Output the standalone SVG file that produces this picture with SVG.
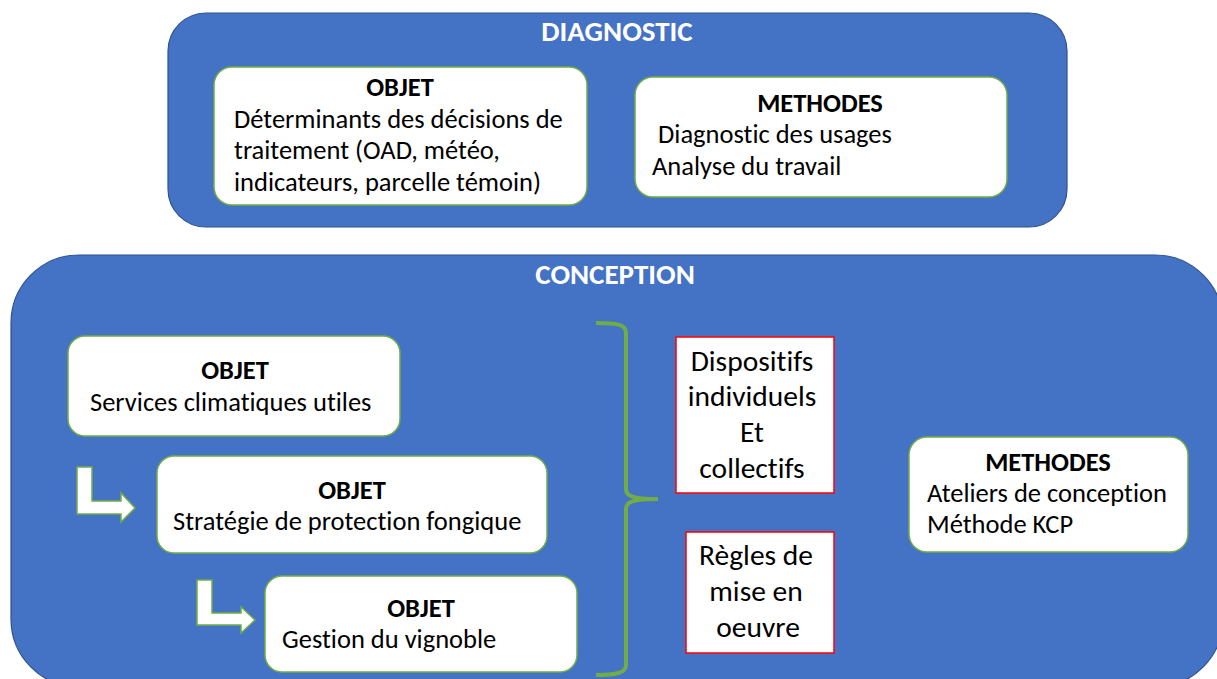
<svg xmlns="http://www.w3.org/2000/svg" width="1217" height="679" viewBox="0 0 1217 679">
  <defs>
    <style>
      .panel { fill: #4472C4; stroke: #2F528F; stroke-width: 1.2; }
      .card { fill: #FFFFFF; stroke: #70AD47; stroke-width: 1.5; }
      .note { fill: #FFFFFF; stroke: #FF0000; stroke-width: 1.5; }
      .bent { fill: #FFFFFF; stroke: #70AD47; stroke-width: 1.5; stroke-linejoin: miter; }
      .brace { fill: none; stroke: #70AD47; stroke-width: 4; stroke-linecap: butt; }
      text { font-family: Carlito, Lato, "Open Sans", sans-serif; fill: #000000; font-variant-ligatures: none; }
      .title { font-size: 29px; font-weight: bold; fill: #FFFFFF; text-anchor: middle; }
      .head { font-size: 26.5px; font-weight: bold; text-anchor: middle; }
      .body { font-size: 26.5px; }
      .big { font-size: 29.5px; text-anchor: middle; }
    </style>
  </defs>

  <!-- Diagnostic phase -->
  <g id="diagnostic">
    <rect class="panel" x="168" y="13" width="899" height="214" rx="38" ry="38"/>
    <text class="title" x="617" y="41">DIAGNOSTIC</text>
  </g>

  <g id="diag-objet">
    <rect class="card" x="214" y="67" width="373" height="138" rx="18" ry="18"/>
    <text class="head" x="400" y="96">OBJET</text>
    <text class="body" x="234" y="128">Déterminants des décisions de</text>
    <text class="body" x="234" y="159">traitement (OAD, météo,</text>
    <text class="body" x="234" y="191">indicateurs, parcelle témoin)</text>
  </g>

  <g id="diag-methodes">
    <rect class="card" x="635" y="77" width="372" height="120" rx="18" ry="18"/>
    <text class="head" x="820" y="112">METHODES</text>
    <text class="body" x="658" y="143">Diagnostic des usages</text>
    <text class="body" x="652" y="175">Analyse du travail</text>
  </g>

  <!-- Conception phase -->
  <g id="conception">
    <rect class="panel" x="11" y="255" width="1212" height="432" rx="68" ry="68"/>
    <text class="title" x="615" y="284">CONCEPTION</text>
  </g>

  <g id="objet-services">
    <rect class="card" x="68" y="336" width="332" height="100" rx="17" ry="17"/>
    <text class="head" x="235" y="379">OBJET</text>
    <text class="body" x="90" y="411">Services climatiques utiles</text>
  </g>

  <g id="objet-strategie">
    <rect class="card" x="157" y="456" width="390" height="97" rx="17" ry="17"/>
    <text class="head" x="352" y="499">OBJET</text>
    <text class="body" x="173" y="530">Stratégie de protection fongique</text>
  </g>

  <g id="objet-gestion">
    <rect class="card" x="265" y="576" width="312" height="96" rx="17" ry="17"/>
    <text class="head" x="421" y="617">OBJET</text>
    <text class="body" x="282" y="648">Gestion du vignoble</text>
  </g>

  <g id="dispositifs">
    <rect class="note" x="676" y="337" width="158" height="156"/>
    <text class="big" x="752" y="371">Dispositifs</text>
    <text class="big" x="752" y="406">individuels</text>
    <text class="big" x="752" y="442">Et</text>
    <text class="big" x="752" y="478">collectifs</text>
  </g>

  <g id="regles">
    <rect class="note" x="686" y="532" width="148" height="121"/>
    <text class="big" x="756" y="565">Règles de</text>
    <text class="big" x="756" y="601">mise en</text>
    <text class="big" x="758" y="637">oeuvre</text>
  </g>

  <g id="conc-methodes">
    <rect class="card" x="909" y="437" width="279" height="115" rx="18" ry="18"/>
    <text class="head" x="1048" y="471">METHODES</text>
    <text class="body" x="927" y="502">Ateliers de conception</text>
    <text class="body" x="927" y="533">Méthode KCP</text>
  </g>

  <!-- Connectors: bent block arrows and the grouping brace -->
  <g id="connectors">
    <path class="bent" d="M77,467 H92 V501 H121 V493 L135,508 L121,522 V514 H77 Z"/>
    <path class="bent" d="M197,580 H212 V613 H241 V607 L255,620 L241,633 V625 H197 Z"/>
    <path class="brace" d="M596,323 C616,323 626,324 626,333 V489 C626,496 632,499 658,499 C632,499 626,502 626,509 V665 C626,673 616,675 596,675"/>
  </g>
</svg>
